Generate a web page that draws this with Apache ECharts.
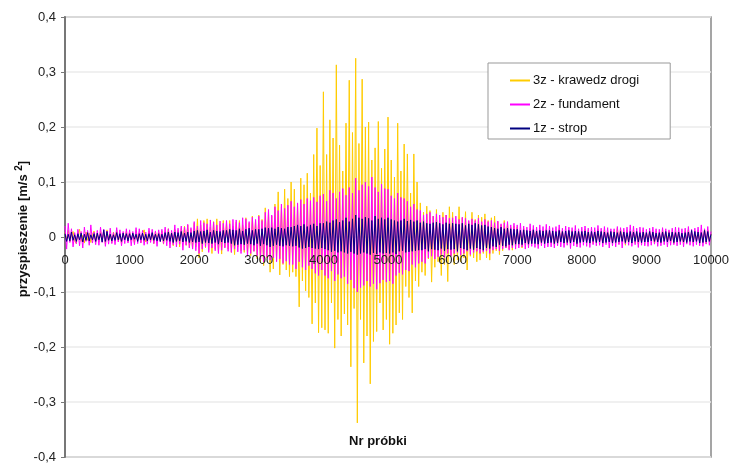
<!DOCTYPE html>
<html>
<head>
<meta charset="utf-8">
<script src="https://cdn.jsdelivr.net/npm/echarts@6/dist/echarts.min.js"></script>
<style>
html,body{margin:0;padding:0;background:#fff;}
#c{width:733px;height:467px;}
</style>
</head>
<body>
<div id="c"></div>
<script>
// Sample spacing between the read-off values (sample numbers)
const STEP = 25;
const seriesNames = ['3z - krawedz drogi', '2z - fundament', '1z - strop'];
const yTicks = [-0.4, -0.3, -0.2, -0.1, 0, 0.1, 0.2, 0.3, 0.4];
const xTicks = [0, 1000, 2000, 3000, 4000, 5000, 6000, 7000, 8000, 9000, 10000];

// values, in 0.001 m/s^2, one every STEP samples (20 per 500 samples)
const acc3z = [
  8,-5,12,-9,4,10,-7,-12,6,14,-8,3,-11,9,-6,7,-10,5,11,-8,
  6,-9,10,-4,8,-12,13,-7,5,-10,9,-6,12,-8,4,-11,7,-5,10,-9,
  9,-7,5,-11,12,-6,8,-10,6,13,-9,-4,11,-8,7,-12,10,-6,9,-7,
  11,-13,8,-7,15,-12,9,-16,14,-10,12,-18,17,-9,20,-15,22,-19,14,-21,
  25,-18,33,-38,22,-27,30,-20,33,-24,18,-30,28,-22,33,-27,24,-31,30,-18,
  26,-22,30,-28,20,-32,27,-18,30,-25,22,-28,35,-30,25,-34,38,-26,30,-40,
  40,-45,32,-52,53,-38,45,-64,38,-58,60,-42,82,-69,55,-50,87,-60,70,-72,
  100,-64,87,-72,60,-127,107,-80,95,-98,116,-110,80,-158,150,-120,198,-174,130,-165,
  264,-169,150,-175,213,-120,180,-202,313,-150,167,-180,120,-140,207,-160,285,-236,190,-130,
  325,-338,170,-150,287,-229,200,-180,209,-267,140,-190,162,-172,210,-120,125,-169,160,-150,
  218,-195,140,-175,109,-160,207,-138,120,-150,169,-90,151,-110,80,-138,151,-80,100,-90,
  62,-64,45,-70,56,-40,48,-82,38,-55,50,-45,35,-70,45,-50,40,-81,55,-35,
  45,-50,30,-42,55,-45,35,-38,46,-60,28,-35,45,-38,32,-45,40,-42,36,-30,
  42,-38,30,-42,35,-30,38,-25,28,-32,22,-25,30,-20,25,-22,18,-24,20,-16,
  18,-15,12,-20,16,-14,10,-16,15,-12,14,-9,13,-15,8,-12,12,-10,14,-8,
  12,-11,8,-14,10,-12,15,-7,11,-9,6,-13,10,-8,12,-10,9,-14,11,-6,
  10,-9,14,-6,12,-8,7,-12,11,-10,15,-7,9,-12,13,-8,10,-6,8,-11,
  11,-9,16,-12,14,-8,10,-15,12,-10,9,-7,12,-11,8,-13,10,-9,12,-8,
  8,-10,11,-6,9,-12,10,-8,7,-11,12,-9,8,-7,11,-10,9,-12,10,-7,
  9,-10,6,-12,11,-8,13,-9,8,-11,10,-7,12,-10,9,-8,14,-12,13,-9,
  6
];
const acc2z = [
  20,-22,25,-10,15,-18,8,-12,14,-16,10,-20,18,-8,12,-15,22,-11,9,-14,
  12,-15,18,-10,14,-17,11,-13,16,-12,8,-14,17,-9,13,-16,10,-12,15,-11,
  13,-16,10,-14,17,-12,15,-11,12,-15,9,-13,16,-10,14,-12,11,-17,13,-9,
  14,-12,18,-16,15,-20,12,-14,22,-18,16,-13,20,-24,18,-15,23,-20,17,-22,
  28,-25,20,-30,30,-22,26,-18,24,-28,31,-20,27,-25,22,-30,29,-24,25,-20,
  30,-26,24,-28,32,-22,31,-27,26,-30,35,-24,33,-35,28,-30,36,-26,32,-34,
  38,-40,30,-45,45,-36,50,-42,40,-38,55,-45,48,-40,60,-48,52,-44,58,-50,
  65,-50,55,-58,62,-45,68,-55,60,-60,70,-52,66,-58,72,-66,64,-70,75,-60,
  78,-70,65,-75,85,-62,80,-80,70,-68,82,-75,88,-72,76,-85,90,-78,80,-93,
  107,-100,85,-92,95,-88,100,-80,92,-90,109,-85,90,-95,82,-84,96,-78,88,-82,
  87,-80,75,-85,70,-70,80,-65,72,-68,70,-60,65,-62,55,-50,60,-55,50,-48,
  48,-45,40,-48,42,-38,45,-35,38,-40,42,-36,40,-32,36,-38,40,-30,34,-35,
  35,-30,38,-28,32,-33,36,-30,34,-26,30,-32,33,-28,30,-26,34,-30,28,-27,
  32,-25,28,-30,30,-24,26,-22,29,-25,24,-22,26,-20,28,-24,22,-20,25,-22,
  22,-20,25,-18,20,-22,18,-20,24,-17,21,-19,18,-21,22,-16,19,-20,23,-18,
  20,-18,17,-20,19,-16,22,-18,16,-19,20,-15,18,-21,17,-16,21,-18,15,-19,
  18,-15,20,-17,16,-19,18,-14,17,-16,21,-15,16,-18,19,-14,17,-20,15,-16,
  15,-18,19,-14,17,-20,16,-13,18,-15,22,-17,20,-14,16,-19,18,-15,17,-16,
  14,-17,16,-15,18,-13,15,-17,14,-16,17,-14,15,-18,13,-15,16,-14,18,-16,
  17,-14,15,-18,16,-13,19,-15,14,-17,16,-14,18,-16,22,-17,15,-13,19,-15,
  10
];
const acc1z = [
  6,-8,5,-7,9,-6,4,-8,6,-5,7,-9,5,-6,8,-7,4,-5,6,-8,
  7,-5,6,-9,13,-8,10,-6,5,-7,4,-6,8,-5,6,-8,7,-5,6,-7,
  6,-5,7,-4,5,-8,6,-5,7,-6,5,-7,6,-5,8,-6,5,-7,6,-8,
  5,-7,8,-6,9,-8,7,-10,9,-8,8,-7,10,-9,7,-8,9,-10,8,-9,
  11,-10,12,-9,10,-12,11,-10,13,-11,9,-12,12,-10,11,-13,10,-9,12,-11,
  12,-10,14,-12,13,-15,12,-14,15,-13,11,-14,14,-12,16,-13,12,-15,14,-12,
  14,-16,15,-13,17,-15,16,-18,17,-16,15,-14,18,-16,16,-17,15,-15,18,-16,
  18,-17,20,-16,22,-19,20,-21,23,-20,19,-18,22,-20,24,-21,20,-22,25,-20,
  25,-22,28,-24,26,-27,30,-25,32,-28,27,-26,30,-28,35,-30,28,-27,33,-30,
  40,-32,35,-30,33,-28,36,-30,34,-32,30,-29,38,-31,33,-28,35,-30,32,-29,
  35,-30,32,-28,30,-31,28,-26,30,-25,33,-28,29,-27,31,-26,28,-25,30,-24,
  26,-24,28,-22,25,-26,24,-22,26,-23,27,-24,25,-21,23,-25,26,-22,24,-23,
  25,-22,24,-26,23,-20,25,-22,21,-24,24,-21,22,-23,25,-20,23,-22,21,-24,
  22,-20,19,-21,18,-17,16,-18,15,-14,18,-16,15,-17,16,-14,15,-15,14,-13,
  14,-13,12,-14,13,-11,12,-13,11,-12,13,-12,11,-13,12,-10,11,-12,12,-11,
  12,-10,11,-12,10,-11,12,-9,10,-11,11,-10,12,-11,10,-9,11,-12,10,-10,
  10,-9,11,-10,9,-11,10,-8,9,-10,11,-9,10,-11,9,-10,8,-9,10,-11,
  9,-10,8,-9,10,-8,9,-10,8,-9,10,-11,9,-8,10,-9,8,-10,9,-9,
  8,-9,10,-7,9,-8,7,-9,8,-10,9,-8,10,-9,8,-7,9,-10,8,-9,
  9,-8,7,-9,8,-10,9,-8,12,-9,10,-8,9,-11,8,-10,12,-9,10,-8,
  5
];

const colors = ['#FFCC00', '#FF00FF', '#000080'];
const FONT = '"Liberation Sans", Arial, sans-serif';

function toPairs(arr) {
  return arr.map((v, i) => [i * STEP, v / 1000]);
}
const allSeries = [acc3z, acc2z, acc1z];

const chart = echarts.init(document.getElementById('c'), null, {renderer: 'canvas'});
chart.setOption({
  animation: false,
  backgroundColor: '#fff',
  textStyle: {fontFamily: FONT},
  grid: {left: 65, top: 17, right: 22, bottom: 10, show: true, borderColor: '#888', borderWidth: 1.5, containLabel: false},
  legend: {
    data: seriesNames,
    orient: 'vertical',
    left: 488, top: 63,
    padding: [11, 31, 4, 22],
    itemGap: 11,
    itemWidth: 20, itemHeight: 2,
    icon: 'rect',
    borderColor: '#999', borderWidth: 1,
    backgroundColor: '#fff',
    textStyle: {fontFamily: FONT, fontSize: 13, color: '#111', padding: [0, 0, 0, -2]}
  },
  xAxis: {
    type: 'value', min: xTicks[0], max: xTicks[xTicks.length - 1], interval: 1000,
    position: 'bottom',
    offset: -220,
    z: 10,
    axisLine: {show: false, onZero: false},
    axisTick: {show: false},
    splitLine: {show: false},
    axisLabel: {fontFamily: FONT, fontSize: 13, color: '#222', margin: 17, formatter: v => String(v)}
  },
  yAxis: {
    type: 'value', min: yTicks[0], max: yTicks[yTicks.length - 1], interval: 0.1,
    axisLine: {show: true, onZero: false, lineStyle: {color: '#777', width: 2}},
    axisTick: {show: true, length: 4, inside: false, lineStyle: {color: '#777'}},
    splitLine: {show: true, lineStyle: {color: '#ebebeb', width: 1.5}},
    axisLabel: {fontFamily: FONT, fontSize: 13, color: '#222', margin: 9,
      formatter: v => (Math.round(v * 10) / 10).toString().replace('.', ',')}
  },
  series: allSeries.map((arr, k) => ({
    name: seriesNames[k],
    type: 'line',
    data: toPairs(arr),
    showSymbol: false,
    symbol: 'none',
    sampling: null,
    color: colors[k],
    lineStyle: {color: colors[k], width: 1},
    z: 2 + k
  })),
  graphic: [
    {type: 'text', x: 378, y: 441, style: {text: 'Nr próbki', font: 'bold 13px ' + FONT, fill: '#111', align: 'center', verticalAlign: 'middle'}},
    {type: 'text', x: 22, y: 229, rotation: Math.PI / 2, style: {
      text: '{a|przyspieszenie [m/s }{s|2}{a|]}', align: 'center', verticalAlign: 'middle',
      rich: {
        a: {font: 'bold 13px ' + FONT, fill: '#111', lineHeight: 16, verticalAlign: 'bottom'},
        s: {font: 'bold 10px ' + FONT, fill: '#111', lineHeight: 16, verticalAlign: 'top'}
      }
    }}
  ]
});
</script>
</body>
</html>
